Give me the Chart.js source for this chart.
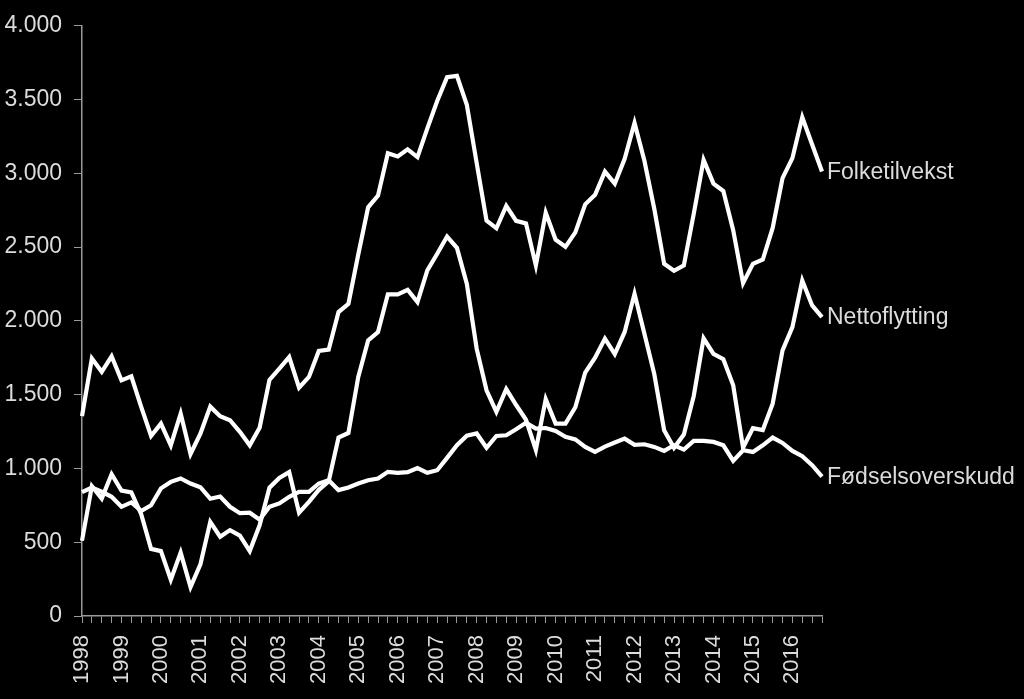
<!DOCTYPE html>
<html>
<head>
<meta charset="utf-8">
<script src="https://cdn.jsdelivr.net/npm/chart.js@4.4.0/dist/chart.umd.min.js"></script>
<style>
  html, body { margin: 0; padding: 0; background: #000; }
  #wrap { width: 1024px; height: 699px; position: relative; background: #000; }
</style>
</head>
<body>
<div id="wrap"><canvas id="c"></canvas></div>
<script>
const years = ['1998','1999','2000','2001','2002','2003','2004','2005','2006','2007','2008','2009','2010','2011','2012','2013','2014','2015','2016'];
const quarters = ['K1','K2','K3','K4'];
const categories = years.flatMap(y => quarters.map(q => y + q));

const seriesNames = ['Folketilvekst', 'Nettoflytting', 'Fødselsoverskudd'];

const folketilvekst = [
  1355,1745,1655,1760, 1597,1624,1417,1220, 1304,1157,1372,1098, 1236,1419,1354,1327,
  1248,1157,1275,1600, 1676,1755,1548,1620, 1796,1805,2060,2115, 2450,2770,2849,3136,
  3115,3163,3110,3305, 3490,3652,3661,3465, 3070,2680,2628,2780, 2678,2660,2376,2733,
  2550,2502,2600,2790, 2855,3012,2930,3098, 3342,3085,2760,2387, 2340,2376,2725,3091,
  2930,2880,2615,2256, 2387,2416,2630,2968, 3103,3380,3195,3012
];
const nettoflytting = [
  510,880,796,961, 850,838,690,455, 440,246,430,196, 350,638,537,582,
  545,440,615,870, 935,975,700,774, 855,912,1210,1240, 1620,1868,1924,2180,
  2180,2211,2127,2342, 2455,2572,2495,2252, 1812,1530,1383,1538, 1430,1330,1125,1470,
  1304,1304,1415,1650, 1750,1880,1775,1925, 2184,1913,1640,1259, 1140,1230,1490,1882,
  1776,1740,1563,1140, 1273,1260,1439,1800, 1958,2274,2105,2026
];
const fodselsoverskudd = [
  840,871,842,808, 740,770,712,751, 865,909,932,898, 873,795,810,740,
  697,700,653,740, 763,808,841,841, 898,920,853,871, 898,920,932,977,
  970,975,1003,970, 988,1072,1158,1222, 1237,1140,1220,1225, 1265,1310,1270,1274,
  1254,1214,1197,1146, 1112,1148,1176,1202, 1160,1164,1146,1119, 1157,1128,1187,1187,
  1180,1157,1051,1123, 1112,1157,1209,1173, 1119,1083,1022,945
];

const yMin = 0, yMax = 4000, yStep = 500;

const textColor = '#dcdcdc';
const axisColor = '#9a9a9a';

const endLabels = {
  id: 'endLabels',
  afterDatasetsDraw(chart) {
    const ctx = chart.ctx;
    ctx.save();
    ctx.font = '23px "Liberation Sans", Arial, sans-serif';
    ctx.fillStyle = textColor;
    ctx.textAlign = 'left';
    ctx.textBaseline = 'middle';
    chart.data.datasets.forEach((ds, i) => {
      const meta = chart.getDatasetMeta(i);
      const last = meta.data[meta.data.length - 1];
      if (last) ctx.fillText(ds.label, last.x + 5, last.y + 1);
    });
    ctx.restore();
  }
};

const lineStyle = { borderColor: '#ffffff', borderWidth: 4.2, pointRadius: 0, tension: 0, fill: false, borderJoinStyle: 'miter', borderCapStyle: 'butt' };

new Chart(document.getElementById('c'), {
  type: 'line',
  data: {
    labels: categories,
    datasets: [
      Object.assign({ label: seriesNames[0], data: folketilvekst }, lineStyle),
      Object.assign({ label: seriesNames[1], data: nettoflytting }, lineStyle),
      Object.assign({ label: seriesNames[2], data: fodselsoverskudd }, lineStyle)
    ]
  },
  options: {
    responsive: true,
    maintainAspectRatio: false,
    animation: false,
    layout: { padding: { top: 25, right: 202, left: 0, bottom: 0 } },
    plugins: { legend: { display: false }, tooltip: { enabled: false } },
    scales: {
      x: {
        type: 'category',
        offset: false,
        grid: { display: true, drawOnChartArea: false, drawTicks: true, tickLength: 7, color: axisColor, lineWidth: 1 },
        border: { display: true, color: axisColor, width: 1.5 },
        ticks: {
          autoSkip: false,
          minRotation: 90,
          maxRotation: 90,
          padding: 12,
          color: textColor,
          font: { family: '"Liberation Sans", Arial, sans-serif', size: 22 },
          callback: function(value, index) { return index % 4 === 0 ? categories[index].slice(0, 4) : ''; }
        },
        afterFit: function(scale) { scale.height = 83; }
      },
      y: {
        min: yMin,
        max: yMax,
        grid: { display: true, drawOnChartArea: false, drawTicks: true, tickLength: 8, color: axisColor, lineWidth: 1 },
        border: { display: true, color: axisColor, width: 1.5 },
        ticks: {
          stepSize: yStep,
          padding: 12,
          color: textColor,
          font: { family: '"Liberation Sans", Arial, sans-serif', size: 23 },
          callback: function(v) { return v.toLocaleString('de-DE'); }
        },
        afterFit: function(scale) { scale.width = 82; }
      }
    }
  },
  plugins: [endLabels]
});
</script>
</body>
</html>
